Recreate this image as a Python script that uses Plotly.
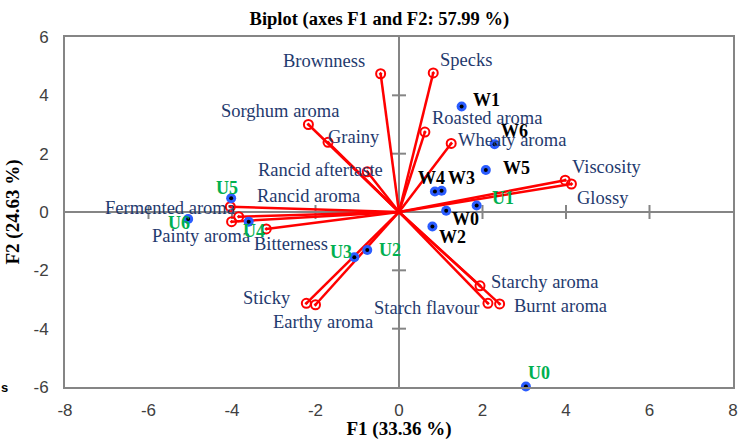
import plotly.graph_objects as go

# ---- data ----
var_names = ["Brownness", "Specks", "Sorghum aroma", "Grainy", "Rancid aftertaste",
             "Roasted aroma", "Wheaty aroma", "Viscosity", "Glossy", "Rancid aroma",
             "Fermented aroma", "Painty aroma", "Bitterness", "Sticky", "Earthy aroma",
             "Starchy aroma", "Starch flavour", "Burnt aroma"]
var_f1 = [-0.44, 0.82, -2.17, -1.70, -0.76, 0.62, 1.25, 3.98, 4.13, -3.84,
          -4.04, -4.01, -3.18, -2.22, -2.00, 1.94, 2.13, 2.41]
var_f2 = [4.74, 4.77, 3.00, 2.39, 1.38, 2.74, 2.35, 1.09, 0.96, -0.16,
          0.18, -0.33, -0.58, -3.13, -3.18, -2.53, -3.13, -3.15]

obs_names = ["W0", "W1", "W2", "W3", "W4", "W5", "W6",
             "U0", "U1", "U2", "U3", "U4", "U5", "U6"]
obs_f1 = [1.13, 1.50, 0.80, 1.02, 0.86, 2.08, 2.29,
          3.04, 1.86, -0.76, -1.07, -3.60, -4.02, -5.05]
obs_f2 = [0.04, 3.62, -0.50, 0.73, 0.70, 1.44, 2.32,
          -5.98, 0.22, -1.30, -1.55, -0.33, 0.47, -0.24]

x_ticks = [-8, -6, -4, -2, 0, 2, 4, 6, 8]
x_tick_labels = ["-8", "-6", "-4", "-2", "0", "2", "4", "6", "8"]
y_ticks = [-6, -4, -2, 0, 2, 4, 6]
y_tick_labels = ["-6", "-4", "-2", "0", "2", "4", "6"]

# ---- styles (label offsets in pixels) ----
var_label_shift = {
    "Brownness": (-57, 13), "Specks": (33, 13), "Sorghum aroma": (-28, 14),
    "Grainy": (26, 5), "Rancid aftertaste": (-47, 2), "Roasted aroma": (62, 14),
    "Wheaty aroma": (61, 3), "Viscosity": (42, 13), "Glossy": (32, -14),
    "Rancid aroma": (70, 21), "Fermented aroma": (-60, -1), "Painty aroma": (-31, -14),
    "Bitterness": (25, -15), "Sticky": (-39, 5), "Earthy aroma": (7, -17),
    "Starchy aroma": (64, 4), "Starch flavour": (-61, -5), "Burnt aroma": (61, -2),
}
obs_label_shift = {
    "W0": (19, -8), "W1": (25, 6), "W2": (20, -10), "W3": (20, 13), "W4": (-3, 14),
    "W5": (31, 2), "W6": (20, 13), "U0": (13, 13), "U1": (26, 8), "U2": (23, 0),
    "U3": (-13, 5), "U4": (5, -9), "U5": (-4, 10), "U6": (-9, -4),
}

RED = "#FF0000"
NAVY = "#1F3A6E"
GREEN = "#00B050"
BLUE = "#2A5CFF"
GRAY = "#858585"
SERIF = "Liberation Serif, Times New Roman, serif"
SANS = "Liberation Sans, Arial, sans-serif"

fig = go.Figure()

# center axes with tick crosses
fig.add_trace(go.Scatter(x=[-8, 8], y=[0, 0], mode="lines",
                         line=dict(color=GRAY, width=2), hoverinfo="skip", showlegend=False))
fig.add_trace(go.Scatter(x=[0, 0], y=[-6, 6], mode="lines",
                         line=dict(color=GRAY, width=2), hoverinfo="skip", showlegend=False))
fig.add_trace(go.Scatter(x=[t for t in x_ticks if abs(t) != 8], y=[0] * 7, mode="markers",
                         marker=dict(symbol="line-ns", size=10, line=dict(color=GRAY, width=2)),
                         hoverinfo="skip", showlegend=False))
fig.add_trace(go.Scatter(x=[0] * 5, y=[t for t in y_ticks if abs(t) != 6], mode="markers",
                         marker=dict(symbol="line-ew", size=10, line=dict(color=GRAY, width=2)),
                         hoverinfo="skip", showlegend=False))

# variable vectors
lx, ly = [], []
for a, b in zip(var_f1, var_f2):
    lx += [0, a, None]
    ly += [0, b, None]
fig.add_trace(go.Scatter(x=lx, y=ly, mode="lines", line=dict(color=RED, width=2.5),
                         hoverinfo="skip", showlegend=False))
fig.add_trace(go.Scatter(x=var_f1, y=var_f2, mode="markers",
                         marker=dict(symbol="circle-open-dot", size=9, color=RED,
                                     line=dict(color=RED, width=2)),
                         text=var_names, showlegend=False))

# observations
fig.add_trace(go.Scatter(x=obs_f1, y=obs_f2, mode="markers", cliponaxis=False,
                         marker=dict(symbol="circle", size=10, color=BLUE),
                         text=obs_names, showlegend=False))
fig.add_trace(go.Scatter(x=obs_f1, y=obs_f2, mode="markers", cliponaxis=False,
                         marker=dict(symbol="circle", size=4, color="black"),
                         hoverinfo="skip", showlegend=False))

ann = []
for n, a, b in zip(var_names, var_f1, var_f2):
    dx, dy = var_label_shift[n]
    ann.append(dict(x=a, y=b, xref="x", yref="y", text=n, showarrow=False,
                    xshift=dx, yshift=dy, font=dict(family=SERIF, size=18.5, color=NAVY)))
for n, a, b in zip(obs_names, obs_f1, obs_f2):
    dx, dy = obs_label_shift[n]
    col = "black" if n.startswith("W") else GREEN
    ann.append(dict(x=a, y=b, xref="x", yref="y", text="<b>%s</b>" % n, showarrow=False,
                    xshift=dx, yshift=dy, font=dict(family=SERIF, size=18, color=col)))
# the stray, cut-off "s" at the left edge
ann.append(dict(x=-0.09, y=0.0, xref="paper", yref="paper", text="<b>s</b>", showarrow=False,
                xanchor="center", yanchor="middle",
                font=dict(family=SANS, size=13, color="black")))

fig.update_layout(
    width=738, height=440,
    margin=dict(l=65, r=5, t=37, b=53),
    plot_bgcolor="white", paper_bgcolor="white",
    title=dict(text="<b>Biplot (axes F1 and F2: 57.99 %)</b>", x=0.514, xanchor="center",
               y=0.959, yanchor="middle", font=dict(family=SERIF, size=18.5, color="black")),
    xaxis=dict(range=[-8, 8], tickvals=x_ticks, ticktext=x_tick_labels, showgrid=False,
               zeroline=False, showline=True, mirror=True, linecolor=GRAY, linewidth=2,
               ticks="", ticklabelstandoff=7, automargin=False,
               tickfont=dict(family=SANS, size=17, color="#404040"),
               title=dict(text="<b>F1 (33.36 %)</b>", standoff=4,
                          font=dict(family=SERIF, size=19, color="black"))),
    yaxis=dict(range=[-6, 6], tickvals=y_ticks, ticktext=y_tick_labels, showgrid=False,
               zeroline=False, showline=True, mirror=True, linecolor=GRAY, linewidth=2,
               ticks="", ticklabelstandoff=11, automargin=False,
               tickfont=dict(family=SANS, size=17, color="#404040"),
               title=dict(text="<b>F2 (24.63 %)</b>", standoff=9,
                          font=dict(family=SERIF, size=19, color="black"))),
    annotations=ann,
)

fig.write_html("out.html", config={"displayModeBar": False},
               post_script="document.body.style.margin='0';")
